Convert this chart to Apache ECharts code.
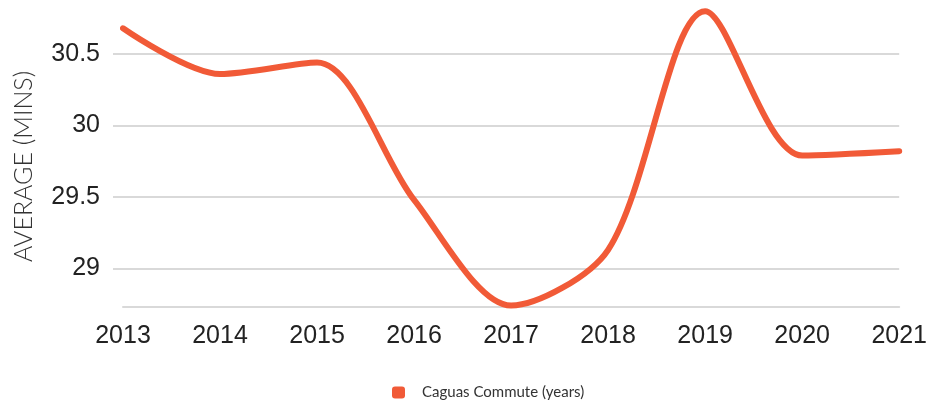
<!DOCTYPE html>
<html>
<head>
<meta charset="utf-8">
<script src="https://cdn.jsdelivr.net/npm/echarts@6/dist/echarts.min.js"></script>
<style>
  html, body { margin: 0; padding: 0; background: #fff; }
  #chart { width: 930px; height: 402px; }
</style>
</head>
<body>
<div id="chart"></div>
<script>
// Average commute time in Caguas, by year
const years = ['2013', '2014', '2015', '2016', '2017', '2018', '2019', '2020', '2021'];
const commuteMinutes = [30.68, 30.36, 30.44, 29.48, 28.74, 29.13, 30.80, 29.79, 29.82];
const yTicks = [29, 29.5, 30, 30.5];
const seriesName = 'Caguas Commute (years)';
const yAxisTitle = 'AVERAGE (MINS)';

const lineColor = '#F15A37';
const gridColor = '#d9d9d9';

const chart = echarts.init(document.getElementById('chart'));
chart.setOption({
  animation: false,
  grid: { left: 123, right: 30, top: 4, bottom: 95 },
  legend: {
    left: 387,
    top: 380,
    itemWidth: 13,
    itemHeight: 12,
    icon: 'roundRect',
    data: [{ name: seriesName, itemStyle: { color: lineColor, borderRadius: 2 } }],
    textStyle: { fontFamily: 'Lato', fontSize: 15, color: '#333', padding: [0, 0, 0, 12] }
  },
  xAxis: {
    type: 'category',
    data: years,
    boundaryGap: false,
    axisLine: { lineStyle: { color: gridColor, width: 2 } },
    axisTick: { show: false },
    axisLabel: { fontFamily: 'Liberation Sans', fontSize: 25, color: '#222', margin: 17 }
  },
  yAxis: {
    type: 'value',
    min: 28.73,
    max: 30.85,
    name: yAxisTitle,
    nameLocation: 'middle',
    nameGap: 87,
    nameTextStyle: { fontFamily: 'Lato', fontWeight: 300, fontSize: 25, color: '#333', padding: [0, 22, 0, 0] },
    axisLine: { show: true, lineStyle: { color: 'rgba(0,0,0,0)', width: 0 } },
    axisTick: { show: true, length: 10, customValues: yTicks, lineStyle: { color: gridColor, width: 2 } },
    splitLine: { lineStyle: { color: gridColor, width: 2 } },
    axisLabel: {
      fontFamily: 'Liberation Sans', fontSize: 25, color: '#222', margin: 23,
      customValues: yTicks
    }
  },
  series: [{
    name: seriesName,
    type: 'line',
    data: commuteMinutes,
    smooth: 0.3,
    showSymbol: false,
    lineStyle: { color: lineColor, width: 6, cap: 'round' },
    itemStyle: { color: lineColor }
  }]
});
</script>
</body>
</html>
